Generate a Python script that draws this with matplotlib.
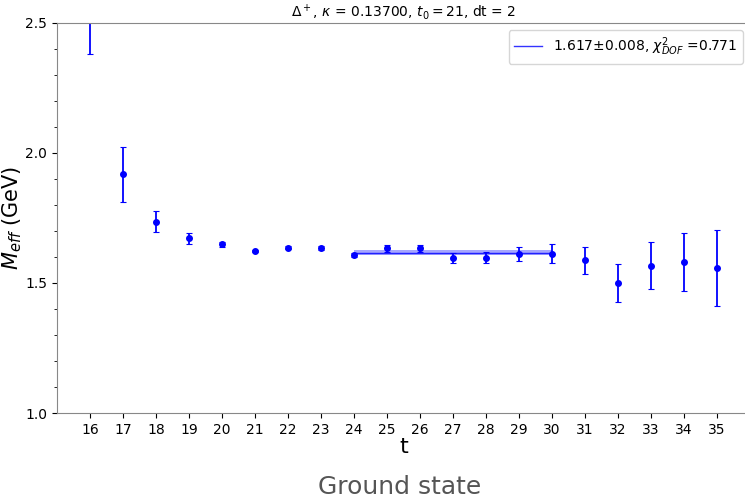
import matplotlib
matplotlib.use("Agg")
import matplotlib.pyplot as plt
from matplotlib.ticker import MultipleLocator

# effective mass data
t = [16, 17, 18, 19, 20, 21, 22, 23, 24, 25, 26, 27, 28, 29, 30, 31, 32, 33, 34, 35]
meff = [2.62, 1.918, 1.735, 1.672, 1.649, 1.623, 1.635, 1.633, 1.607, 1.633, 1.633,
        1.597, 1.598, 1.610, 1.613, 1.587, 1.500, 1.566, 1.580, 1.557]
err = [0.24, 0.105, 0.040, 0.022, 0.009, 0.005, 0.006, 0.008, 0.008, 0.013, 0.013,
       0.020, 0.022, 0.027, 0.038, 0.052, 0.073, 0.090, 0.112, 0.145]

# fit result
fit_range = [24, 30]
fit_val = 1.617
fit_err = 0.008
chi2 = 0.771

fig = plt.figure(figsize=(7.45, 4.99), dpi=100)
ax = fig.add_axes([0.0765, 0.1723, 0.93, 0.7817])

ax.errorbar(t, meff, yerr=err, fmt='o', color='blue', markersize=4,
            capsize=2, elinewidth=1.3, capthick=0.8)
ax.plot(fit_range, [fit_val, fit_val], color='blue', lw=1, alpha=0.8,
        label=f"{fit_val:.3f}$\\pm${fit_err:.3f}, $\\chi^2_{{DOF}}$ ={chi2:.3f}")
ax.fill_between(fit_range, fit_val - fit_err, fit_val + fit_err,
                color='blue', alpha=0.35, lw=0)

ax.set_xlim(15, 36)
ax.set_ylim(1.0, 2.5)
ax.set_xticks(t)
ax.yaxis.set_major_locator(MultipleLocator(0.5))
ax.yaxis.set_minor_locator(MultipleLocator(0.1))
ax.tick_params(labelsize=10)
for s in ax.spines.values():
    s.set_color('#888888')

ax.set_xlabel("t", fontsize=16, labelpad=0)
ax.set_ylabel("$M_{eff}$ (GeV)", fontsize=15, labelpad=1)
ax.set_title("$\\Delta^+$, $\\kappa$ = 0.13700, $t_0 = 21$, dt = 2", fontsize=10, pad=4)
ax.legend(loc='upper right', fontsize=10)

fig.text(0.537, 0.025, "Ground state", fontsize=18, color='#555555',
         ha='center', va='center')

fig.savefig("out.png", dpi=100)
